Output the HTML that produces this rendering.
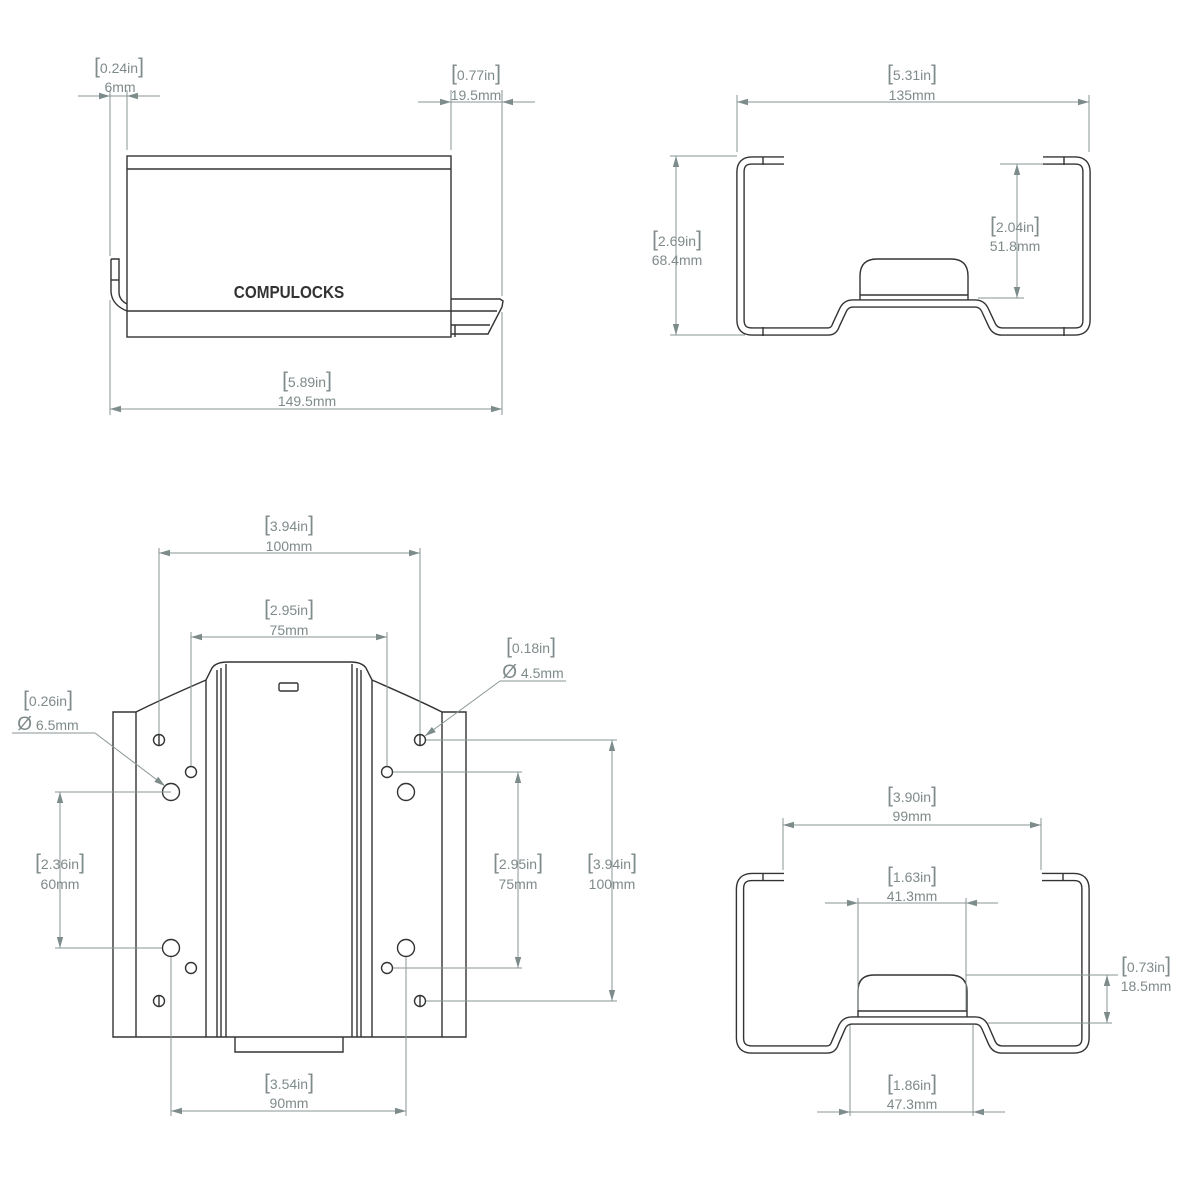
<!DOCTYPE html>
<html><head><meta charset="utf-8"><style>
html,body{margin:0;padding:0;background:#fff}
svg{display:block}
.d{stroke:#8a9696;stroke-width:1;fill:none}
.o{stroke:#333;stroke-width:1.4;fill:none}
.t{font-family:"Liberation Sans",sans-serif;font-size:14px;fill:#7f8a8a;text-anchor:middle}
.b{font-size:21px;font-weight:100}
</style></head><body>
<svg width="1200" height="1200" viewBox="0 0 1200 1200" xmlns="http://www.w3.org/2000/svg">
<defs>
<marker id="a" markerUnits="userSpaceOnUse" markerWidth="11" markerHeight="8" refX="11" refY="4" orient="auto-start-reverse"><path d="M0,0.8 L11,4 L0,7.2z" fill="#7d8b8b"/></marker>
</defs>

<!-- ========== TOP LEFT SIDE VIEW ========== -->
<g class="o">
<rect x="127" y="156" width="324" height="181"/>
<line x1="127" y1="169" x2="451" y2="169"/>
<line x1="127" y1="311" x2="451" y2="311"/>
<path d="M111 259 L119 259 L119 292 Q119 300 127 304"/>
<path d="M111 259 L111 292 Q112 305 127 311"/>
<line x1="111" y1="280" x2="119" y2="280"/>
<path d="M451 299 L500 299 L503 301 L502 307 L488 334 L451 334"/>
<line x1="451" y1="311" x2="497" y2="311"/>
<line x1="451" y1="325" x2="490" y2="325"/>
<line x1="455" y1="325" x2="455" y2="337"/>
</g>
<text x="289" y="298" style="font-family:'Liberation Sans',sans-serif;font-weight:bold;font-size:18px;fill:#333;text-anchor:middle" transform="translate(289 0) scale(0.85 1) translate(-289 0)">COMPULOCKS</text>

<!-- dims top-left -->
<g class="d">
<line x1="110" y1="90" x2="110" y2="256"/>
<line x1="127" y1="90" x2="127" y2="150"/>
<line x1="78" y1="96" x2="110" y2="96" marker-end="url(#a)"/>
<line x1="160" y1="96" x2="127" y2="96" marker-end="url(#a)"/>
<line x1="110" y1="96" x2="127" y2="96"/>
<line x1="451" y1="90" x2="451" y2="150"/>
<line x1="502" y1="90" x2="502" y2="296"/>
<line x1="418" y1="102" x2="451" y2="102" marker-end="url(#a)"/>
<line x1="535" y1="102" x2="502" y2="102" marker-end="url(#a)"/>
<line x1="451" y1="102" x2="502" y2="102"/>
<line x1="110" y1="300" x2="110" y2="415"/>
<line x1="502" y1="312" x2="502" y2="415"/>
<line x1="110" y1="409" x2="502" y2="409" marker-start="url(#a)" marker-end="url(#a)"/>
</g>
<text class="t" x="119" y="73"><tspan class="b">[</tspan>0.24in<tspan class="b">]</tspan></text>
<text class="t" x="120" y="92">6mm</text>
<text class="t" x="476" y="80"><tspan class="b">[</tspan>0.77in<tspan class="b">]</tspan></text>
<text class="t" x="476" y="100">19.5mm</text>
<text class="t" x="307" y="387"><tspan class="b">[</tspan>5.89in<tspan class="b">]</tspan></text>
<text class="t" x="307" y="406">149.5mm</text>

<!-- ========== TOP RIGHT PROFILE ========== -->
<g fill="none" stroke-linejoin="round">
<path id="p1" d="M784 160.5 L752 160.5 Q740.5 160.5 740.5 172 L740.5 320 Q740.5 331.5 752 331.5 L828 331.5 Q834 331.5 836 325 L843 310 Q846 303.5 853 303.5 L975 303.5 Q982 303.5 985 310 L992 325 Q995 331.5 1002 331.5 L1075 331.5 Q1086.5 331.5 1086.5 320 L1086.5 172 Q1086.5 160.5 1075 160.5 L1043 160.5" stroke="#333" stroke-width="8.6"/>
<path d="M784 160.5 L752 160.5 Q740.5 160.5 740.5 172 L740.5 320 Q740.5 331.5 752 331.5 L828 331.5 Q834 331.5 836 325 L843 310 Q846 303.5 853 303.5 L975 303.5 Q982 303.5 985 310 L992 325 Q995 331.5 1002 331.5 L1075 331.5 Q1086.5 331.5 1086.5 320 L1086.5 172 Q1086.5 160.5 1075 160.5 L1043 160.5" stroke="#fff" stroke-width="5.8"/>
</g>
<g class="o">
<path d="M860 300 L860 276 Q860 259 877 259 L951 259 Q968 259 968 276 L968 300"/>
<line x1="860" y1="295" x2="968" y2="295"/>
<line x1="763" y1="157" x2="763" y2="165"/><line x1="1064" y1="157" x2="1064" y2="165"/>
<line x1="763" y1="327" x2="763" y2="336"/><line x1="1064" y1="327" x2="1064" y2="336"/>
</g>
<g class="d">
<line x1="737" y1="95" x2="737" y2="152"/>
<line x1="1089" y1="95" x2="1089" y2="152"/>
<line x1="737" y1="102" x2="1089" y2="102" marker-start="url(#a)" marker-end="url(#a)"/>
<line x1="670" y1="156" x2="737" y2="156"/>
<line x1="670" y1="335" x2="745" y2="335"/>
<line x1="676" y1="156" x2="676" y2="335" marker-start="url(#a)" marker-end="url(#a)"/>
<line x1="1000" y1="164" x2="1043" y2="164"/>
<line x1="978" y1="298" x2="1024" y2="298"/>
<line x1="1017" y1="164" x2="1017" y2="298" marker-start="url(#a)" marker-end="url(#a)"/>
</g>
<text class="t" x="912" y="80"><tspan class="b">[</tspan>5.31in<tspan class="b">]</tspan></text>
<text class="t" x="912" y="100">135mm</text>
<text class="t" x="677" y="246"><tspan class="b">[</tspan>2.69in<tspan class="b">]</tspan></text>
<text class="t" x="677" y="265">68.4mm</text>
<text class="t" x="1015" y="232"><tspan class="b">[</tspan>2.04in<tspan class="b">]</tspan></text>
<text class="t" x="1015" y="251">51.8mm</text>

<!-- ========== BOTTOM LEFT FRONT VIEW ========== -->
<g class="o">
<path d="M113 1037 L113 712 L136 712 Q160 700 206 680 L212 668 Q216 662 228 662 L350 662 Q362 662 366 668 L372 680 Q418 700 442 712 L466 712 L466 1037 Z"/>
<line x1="136" y1="712" x2="136" y2="1037"/>
<line x1="442" y1="712" x2="442" y2="1037"/>
<line x1="206" y1="680" x2="206" y2="1037"/>
<line x1="372" y1="680" x2="372" y2="1037"/>
<line x1="217" y1="670" x2="217" y2="1037"/>
<line x1="221" y1="668" x2="221" y2="1037"/>
<line x1="226" y1="664" x2="226" y2="1037"/>
<line x1="352" y1="664" x2="352" y2="1037"/>
<line x1="357" y1="668" x2="357" y2="1037"/>
<line x1="361" y1="670" x2="361" y2="1037"/>
<path d="M235 1037 L235 1052 L343 1052 L343 1037"/>
<rect x="279" y="683" width="19" height="8" rx="1.5"/>
<circle cx="159" cy="740" r="5.5"/><line x1="159" y1="734.5" x2="159" y2="745.5"/>
<circle cx="420" cy="740" r="5.5"/><line x1="420" y1="734.5" x2="420" y2="745.5"/>
<circle cx="159" cy="1001" r="5.5"/><line x1="159" y1="995.5" x2="159" y2="1006.5"/>
<circle cx="420" cy="1001" r="5.5"/><line x1="420" y1="995.5" x2="420" y2="1006.5"/>
<circle cx="191" cy="772" r="5.5"/><circle cx="387" cy="772" r="5.5"/>
<circle cx="191" cy="968" r="5.5"/><circle cx="387" cy="968" r="5.5"/>
<circle cx="171" cy="792" r="8.5"/><circle cx="406" cy="792" r="8.5"/>
<circle cx="171" cy="948" r="8.5"/><circle cx="406" cy="948" r="8.5"/>
</g>
<g class="d">
<line x1="159" y1="548" x2="159" y2="734"/>
<line x1="420" y1="548" x2="420" y2="734"/>
<line x1="159" y1="553" x2="420" y2="553" marker-start="url(#a)" marker-end="url(#a)"/>
<line x1="191" y1="632" x2="191" y2="766"/>
<line x1="387" y1="632" x2="387" y2="766"/>
<line x1="191" y1="637" x2="387" y2="637" marker-start="url(#a)" marker-end="url(#a)"/>
<line x1="566" y1="681" x2="500" y2="681"/>
<line x1="500" y1="681" x2="425" y2="736" marker-end="url(#a)"/>
<line x1="12" y1="733" x2="95" y2="733"/>
<line x1="95" y1="733" x2="165" y2="786" marker-end="url(#a)"/>
<line x1="55" y1="792" x2="171" y2="792"/>
<line x1="55" y1="948" x2="162" y2="948"/>
<line x1="60" y1="792" x2="60" y2="948" marker-start="url(#a)" marker-end="url(#a)"/>
<line x1="393" y1="772" x2="522" y2="772"/>
<line x1="393" y1="968" x2="522" y2="968"/>
<line x1="518" y1="772" x2="518" y2="968" marker-start="url(#a)" marker-end="url(#a)"/>
<line x1="426" y1="740" x2="617" y2="740"/>
<line x1="426" y1="1001" x2="617" y2="1001"/>
<line x1="612" y1="740" x2="612" y2="1001" marker-start="url(#a)" marker-end="url(#a)"/>
<line x1="171" y1="957" x2="171" y2="1116"/>
<line x1="406" y1="957" x2="406" y2="1116"/>
<line x1="171" y1="1111" x2="406" y2="1111" marker-start="url(#a)" marker-end="url(#a)"/>
</g>
<text class="t" x="289" y="531"><tspan class="b">[</tspan>3.94in<tspan class="b">]</tspan></text>
<text class="t" x="289" y="551">100mm</text>
<text class="t" x="289" y="615"><tspan class="b">[</tspan>2.95in<tspan class="b">]</tspan></text>
<text class="t" x="289" y="635">75mm</text>
<text class="t" x="531" y="653"><tspan class="b">[</tspan>0.18in<tspan class="b">]</tspan></text>
<text class="t" x="533" y="678"><tspan style="font-size:19px">Ø</tspan> 4.5mm</text>
<text class="t" x="48" y="706"><tspan class="b">[</tspan>0.26in<tspan class="b">]</tspan></text>
<text class="t" x="48" y="730"><tspan style="font-size:19px">Ø</tspan> 6.5mm</text>
<text class="t" x="60" y="869"><tspan class="b">[</tspan>2.36in<tspan class="b">]</tspan></text>
<text class="t" x="60" y="889">60mm</text>
<text class="t" x="518" y="869"><tspan class="b">[</tspan>2.95in<tspan class="b">]</tspan></text>
<text class="t" x="518" y="889">75mm</text>
<text class="t" x="612" y="869"><tspan class="b">[</tspan>3.94in<tspan class="b">]</tspan></text>
<text class="t" x="612" y="889">100mm</text>
<text class="t" x="289" y="1089"><tspan class="b">[</tspan>3.54in<tspan class="b">]</tspan></text>
<text class="t" x="289" y="1108">90mm</text>

<!-- ========== BOTTOM RIGHT PROFILE ========== -->
<g fill="none" stroke-linejoin="round">
<path d="M784 877 L752 877 Q740 877 740 889 L740 1038 Q740 1049.5 752 1049.5 L827 1049.5 Q833 1049.5 835 1043 L842 1027 Q845 1020.5 852 1020.5 L975 1020.5 Q982 1020.5 985 1027 L992 1043 Q995 1049.5 1002 1049.5 L1074 1049.5 Q1085.5 1049.5 1085.5 1038 L1085.5 889 Q1085.5 877 1074 877 L1042 877" stroke="#333" stroke-width="8.6"/>
<path d="M784 877 L752 877 Q740 877 740 889 L740 1038 Q740 1049.5 752 1049.5 L827 1049.5 Q833 1049.5 835 1043 L842 1027 Q845 1020.5 852 1020.5 L975 1020.5 Q982 1020.5 985 1027 L992 1043 Q995 1049.5 1002 1049.5 L1074 1049.5 Q1085.5 1049.5 1085.5 1038 L1085.5 889 Q1085.5 877 1074 877 L1042 877" stroke="#fff" stroke-width="5.8"/>
</g>
<g class="o">
<path d="M858 1017 L858 991 Q858 975 874 975 L950 975 Q967 975 967 991 L967 1017"/>
<line x1="858" y1="1011" x2="967" y2="1011"/>
<line x1="763" y1="873" x2="763" y2="881"/><line x1="1063" y1="873" x2="1063" y2="881"/>
</g>
<g class="d">
<line x1="783" y1="818" x2="783" y2="870"/>
<line x1="1041" y1="818" x2="1041" y2="870"/>
<line x1="783" y1="825" x2="1041" y2="825" marker-start="url(#a)" marker-end="url(#a)"/>
<line x1="858" y1="898" x2="858" y2="1010"/>
<line x1="966" y1="898" x2="966" y2="1010"/>
<line x1="825" y1="903" x2="858" y2="903" marker-end="url(#a)"/>
<line x1="998" y1="903" x2="966" y2="903" marker-end="url(#a)"/>
<line x1="858" y1="903" x2="966" y2="903"/>
<line x1="966" y1="975" x2="1118" y2="975"/>
<line x1="988" y1="1023" x2="1112" y2="1023"/>
<line x1="1107" y1="975" x2="1107" y2="1023" marker-start="url(#a)" marker-end="url(#a)"/>
<line x1="850" y1="1025" x2="850" y2="1116"/>
<line x1="973" y1="1025" x2="973" y2="1116"/>
<line x1="817" y1="1112" x2="850" y2="1112" marker-end="url(#a)"/>
<line x1="1005" y1="1112" x2="973" y2="1112" marker-end="url(#a)"/>
<line x1="850" y1="1112" x2="973" y2="1112"/>
</g>
<text class="t" x="912" y="802"><tspan class="b">[</tspan>3.90in<tspan class="b">]</tspan></text>
<text class="t" x="912" y="821">99mm</text>
<text class="t" x="912" y="882"><tspan class="b">[</tspan>1.63in<tspan class="b">]</tspan></text>
<text class="t" x="912" y="901">41.3mm</text>
<text class="t" x="1146" y="972"><tspan class="b">[</tspan>0.73in<tspan class="b">]</tspan></text>
<text class="t" x="1146" y="991">18.5mm</text>
<text class="t" x="912" y="1090"><tspan class="b">[</tspan>1.86in<tspan class="b">]</tspan></text>
<text class="t" x="912" y="1109">47.3mm</text>
</svg>
</body></html>
